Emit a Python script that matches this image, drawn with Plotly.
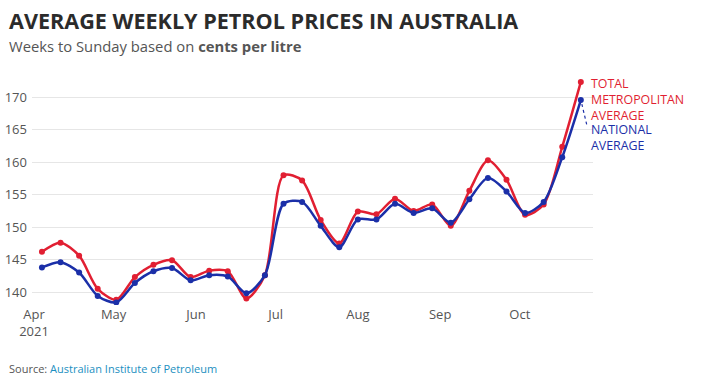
import plotly.graph_objects as go

weeks = ["2021-04-04", "2021-04-11", "2021-04-18", "2021-04-25", "2021-05-02",
         "2021-05-09", "2021-05-16", "2021-05-23", "2021-05-30", "2021-06-06",
         "2021-06-13", "2021-06-20", "2021-06-27", "2021-07-04", "2021-07-11",
         "2021-07-18", "2021-07-25", "2021-08-01", "2021-08-08", "2021-08-15",
         "2021-08-22", "2021-08-29", "2021-09-05", "2021-09-12", "2021-09-19",
         "2021-09-26", "2021-10-03", "2021-10-10", "2021-10-17", "2021-10-24"]
metro = [146.2, 147.6, 145.6, 140.5, 138.8, 142.3, 144.2, 144.9, 142.3, 143.3,
         143.2, 139.0, 142.6, 158.0, 157.2, 151.1, 147.5, 152.4, 152.0, 154.4,
         152.5, 153.5, 150.2, 155.6, 160.3, 157.3, 151.9, 153.5, 162.4, 172.4]
national = [143.8, 144.6, 143.0, 139.4, 138.4, 141.4, 143.2, 143.7, 141.8, 142.6,
            142.4, 139.8, 142.6, 153.6, 153.9, 150.2, 146.9, 151.2, 151.2, 153.6,
            152.2, 152.9, 150.7, 154.3, 157.6, 155.5, 152.2, 153.9, 160.8, 169.6]

tick_dates = ["2021-04-01", "2021-05-01", "2021-06-01", "2021-07-01",
              "2021-08-01", "2021-09-01", "2021-10-01"]
tick_labels = ["Apr<br>2021", "May", "Jun", "Jul", "Aug", "Sep", "Oct"]
y_ticks = [140, 145, 150, 155, 160, 165, 170]

RED = "#e11f32"
BLUE = "#1b2fa8"
GREY = "#555555"
FONT = "Open Sans"

fig = go.Figure()
fig.add_trace(go.Scatter(x=weeks, y=metro, mode="lines+markers", name="Metro",
                         line=dict(color=RED, width=2.5, shape="spline", smoothing=0.8),
                         marker=dict(color=RED, size=6)))
fig.add_trace(go.Scatter(x=weeks, y=national, mode="lines+markers", name="National",
                         line=dict(color=BLUE, width=2.5, shape="spline", smoothing=0.8),
                         marker=dict(color=BLUE, size=6)))

fig.update_layout(
    width=702, height=382,
    margin=dict(l=32, r=109, t=78, b=77),
    paper_bgcolor="white", plot_bgcolor="white",
    showlegend=False,
    font=dict(family=FONT, color=GREY, size=13),
    xaxis=dict(range=["2021-03-31 06:00", "2021-10-28 14:00"],
               tickvals=tick_dates, ticktext=tick_labels, automargin=False,
               showgrid=False, zeroline=False, showline=False,
               tickfont=dict(size=13, color=GREY), ticks=""),
    yaxis=dict(range=[138, 173], tickvals=y_ticks, automargin=False,
               showgrid=True, gridcolor="#e6e6e6", gridwidth=1,
               zeroline=False, showline=False, ticks="",
               tickfont=dict(size=13, color=GREY), ticklabelstandoff=4),
)

annotations = [
    dict(text="<b>AVERAGE WEEKLY PETROL PRICES IN AUSTRALIA</b>",
         xref="paper", yref="paper", x=(7 - 32) / 561, y=(304.7 - 20.5) / 226.7,
         xanchor="left", yanchor="middle", showarrow=False,
         font=dict(family=FONT, size=21.6, color="#2b2b2b", weight=800)),
    dict(text="Weeks to Sunday based on <b>cents per litre</b>",
         xref="paper", yref="paper", x=(7 - 32) / 561, y=(304.7 - 46) / 226.7,
         xanchor="left", yanchor="middle", showarrow=False,
         font=dict(family=FONT, size=14.8, color=GREY)),
    dict(text="Source: <span style='color:#1b8fbf'>Australian Institute of Petroleum</span>",
         xref="paper", yref="paper", x=(7 - 32) / 561, y=(304.7 - 368) / 226.7,
         xanchor="left", yanchor="middle", showarrow=False,
         font=dict(family=FONT, size=11, color=GREY)),
    dict(text="TOTAL<br>METROPOLITAN<br>AVERAGE", x=weeks[-1], y=metro[-1],
         xref="x", yref="y", xanchor="left", yanchor="middle", align="left",
         xshift=8, yshift=-18, showarrow=False,
         font=dict(family=FONT, size=12.4, color=RED)),
    dict(text="NATIONAL<br>AVERAGE", x=weeks[-1], y=national[-1],
         xref="x", yref="y", xanchor="left", yanchor="middle", align="left",
         xshift=8, yshift=-37, showarrow=False,
         font=dict(family=FONT, size=12.4, color=BLUE)),
]
fig.update_layout(annotations=annotations)

fig.add_shape(type="line", xref="x", yref="y",
              xsizemode="pixel", ysizemode="pixel",
              xanchor=weeks[-1], yanchor=national[-1],
              x0=1, x1=6, y0=-4, y1=-25,
              line=dict(color=BLUE, width=1.2, dash="dot"))

fig.write_html("out.html", config={"displayModeBar": False},
               post_script="document.body.style.margin='0';document.body.style.padding='0';")
